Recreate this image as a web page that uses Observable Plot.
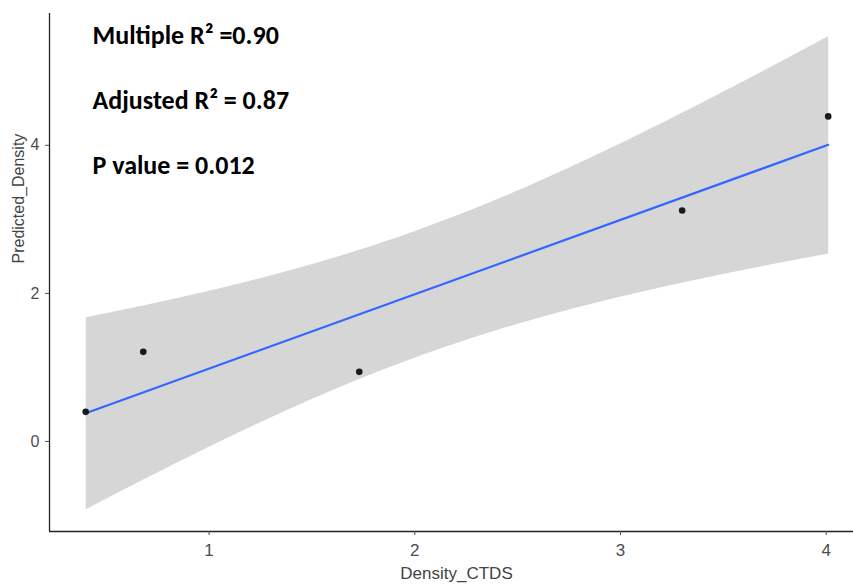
<!DOCTYPE html>
<html>
<head>
<meta charset="utf-8">
<script src="https://cdn.jsdelivr.net/npm/d3@7"></script>
<script src="https://cdn.jsdelivr.net/npm/@observablehq/plot@0.6"></script>
<style>
  html, body { margin: 0; padding: 0; background: #fff; }
</style>
</head>
<body>
<div id="chart"></div>
<script>
const densityCTDS = [0.40, 0.68, 1.73, 3.30, 4.01];
const predictedDensity = [0.40, 1.21, 0.94, 3.12, 4.39];
const xTicks = [1, 2, 3, 4];
const yTicks = [0, 2, 4];
const xDomain = [0.224, 4.133];
const yDomain = [-1.216, 5.78];
const annotationLines = ["Multiple R\u00B2 =0.90", "Adjusted R\u00B2 = 0.87", "P value = 0.012"];
const xTitle = "Density_CTDS";
const yTitle = "Predicted_Density";

const data = densityCTDS.map((x, i) => ({x, y: predictedDensity[i]}));
const axisFont = "Arial, 'Liberation Sans', sans-serif";

const chart = Plot.plot({
  width: 853,
  height: 584,
  marginLeft: 49,
  marginRight: 0,
  marginTop: 13,
  marginBottom: 53,
  style: {fontFamily: axisFont, background: "#fff"},
  x: {domain: xDomain},
  y: {domain: yDomain},
  marks: [
    Plot.linearRegressionY(data, {
      x: "x", y: "y", ci: 0.95,
      stroke: "#3366FF", strokeWidth: 2.2,
      fill: "#999999", fillOpacity: 0.4
    }),
    Plot.dot(data, {x: "x", y: "y", r: 3.3, fill: "#1a1a1a", stroke: "none"}),
    Plot.ruleX([xDomain[0]], {stroke: "#222", strokeWidth: 1.3}),
    Plot.ruleY([yDomain[0]], {stroke: "#222", strokeWidth: 1.3}),
    Plot.axisX(xTicks, {tickSize: 4, tickPadding: 8, fontSize: 17, fontFamily: axisFont, color: "#4d4d4d", label: null, tickFormat: d => String(d)}),
    Plot.axisY(yTicks, {tickSize: 4, tickPadding: 6, fontSize: 16, fontFamily: axisFont, color: "#4d4d4d", label: null, tickFormat: d => String(d)}),
    Plot.text([xTitle], {frameAnchor: "bottom", dx: 5, dy: 42, lineAnchor: "middle", fontSize: 17, fontFamily: axisFont, fill: "#444"}),
    Plot.text([yTitle], {frameAnchor: "left", rotate: -90, dx: -31, dy: -9, lineAnchor: "middle", fontSize: 16, fontFamily: axisFont, fill: "#444"}),
    Plot.text([annotationLines.join("\n")], {
      frameAnchor: "top-left", textAnchor: "start", lineAnchor: "top",
      dx: 43, dy: -16, lineHeight: 2.5,
      fontSize: 26, fontWeight: "bold", fontFamily: "Carlito, Lato, 'Open Sans', sans-serif", fill: "#000"
    })
  ]
});

document.getElementById("chart").appendChild(chart);
</script>
</body>
</html>
